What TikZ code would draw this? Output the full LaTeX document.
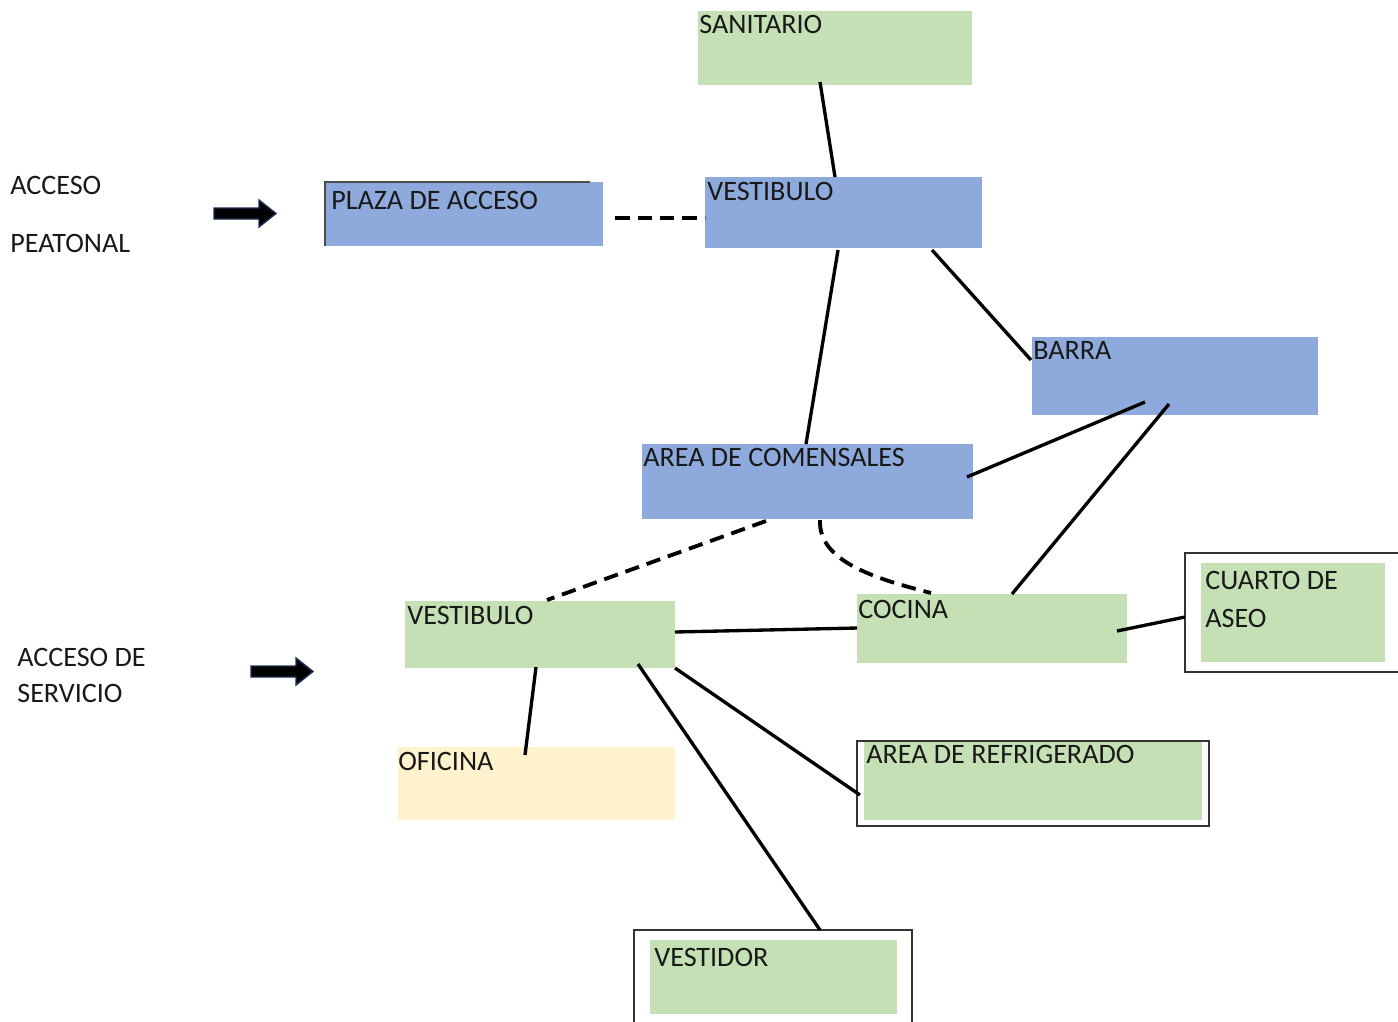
\documentclass[tikz,border=0pt]{standalone}
\usepackage{fontspec}
\setmainfont{Carlito}
\usetikzlibrary{calc}
\definecolor{bblue}{HTML}{8EA9DB}
\definecolor{bgreen}{HTML}{C5E0B4}
\definecolor{byellow}{HTML}{FFF2CC}
\definecolor{navy}{HTML}{1F2F55}
\begin{document}
\begin{tikzpicture}[x=0.02cm,y=-0.02cm,
  box/.style={inner sep=0,outer sep=0,anchor=north west,draw=none},
  frame/.style={inner sep=0,outer sep=0,anchor=north west,draw=black!80,line width=0.7pt,fill=white},
  lbl/.style={inner sep=0,anchor=base west,font=\fontsize{16}{19}\selectfont,text=black!90},
  conn/.style={line width=1.9pt,black},
  dconn/.style={line width=2.2pt,black,dash pattern=on 0.29cm off 0.16cm},
  bigarrow/.style={fill=black,draw=navy,line width=0.8pt,line join=miter}]
\useasboundingbox (0,0) rectangle (1398,1021);

% boxes
\node[box,fill=bgreen,minimum width=5.48cm,minimum height=1.48cm] (san) at (698,11) {};
\node[box,fill=bblue,minimum width=5.56cm,minimum height=1.28cm] (plaza) at (325,182) {};
\draw[black!70,line width=0.6pt] (plaza.south west) -- (plaza.north west) -- ([xshift=-0.26cm]plaza.north east);
\node[box,fill=bblue,minimum width=5.54cm,minimum height=1.42cm] (vest1) at (705,177) {};
\node[box,fill=bblue,minimum width=5.72cm,minimum height=1.56cm] (barra) at (1032,337) {};
\node[box,fill=bblue,minimum width=6.62cm,minimum height=1.50cm] (area) at (642,444) {};
\node[box,fill=bgreen,minimum width=5.40cm,minimum height=1.34cm] (vest2) at (405,601) {};
\node[box,fill=bgreen,minimum width=5.40cm,minimum height=1.38cm] (cocina) at (857,594) {};
\node[frame,minimum width=4.30cm,minimum height=2.38cm] (cuarto) at (1185,553) {};
\node[box,fill=bgreen,minimum width=3.68cm,minimum height=1.98cm] (cuartoin) at (1201,563) {};
\node[box,fill=byellow,minimum width=5.54cm,minimum height=1.46cm] (ofi) at (398,747) {};
\node[frame,minimum width=7.04cm,minimum height=1.70cm] (refri) at (857,741) {};
\node[box,fill=bgreen,minimum width=6.76cm,minimum height=1.56cm] (refriin) at (864,742) {};
\node[frame,minimum width=5.56cm,minimum height=2.10cm] (vestidor) at (634,930) {};
\node[box,fill=bgreen,minimum width=4.94cm,minimum height=1.48cm] (vestidorin) at (650,940) {};

% texts
\node[lbl] (tsan) at (699,33) {SANITARIO};
\node[lbl] (tplaza) at (331,209) {PLAZA DE ACCESO};
\node[lbl] (tvest1) at (707,200) {VESTIBULO};
\node[lbl] (tbarra) at (1033,359) {BARRA};
\node[lbl] (tarea) at (643,466) {AREA DE COMENSALES};
\node[lbl] (tvest2) at (407,624) {VESTIBULO};
\node[lbl] (tcocina) at (858,618) {COCINA};
\node[lbl] (tcuarto1) at (1205,589) {CUARTO DE};
\node[lbl] (tcuarto2) at (1205,627) {ASEO};
\node[lbl] (tofi) at (398,770) {OFICINA};
\node[lbl] (trefri) at (866,763) {AREA DE REFRIGERADO};
\node[lbl] (tvestidor) at (654,966) {VESTIDOR};
\node[lbl] (tacc1) at (10,194) {ACCESO};
\node[lbl] (tacc2) at (10,252) {PEATONAL};
\node[lbl] (tsrv1) at (17,666) {ACCESO DE};
\node[lbl] (tsrv2) at (17,702) {SERVICIO};

% arrows
\draw[bigarrow] (214,208) -- (259,208) -- (259,200) -- (276,213.5) -- (259,227) -- (259,219) -- (214,219) -- cycle;
\draw[bigarrow] (251,666) -- (296,666) -- (296,658) -- (313,671.5) -- (296,685) -- (296,677) -- (251,677) -- cycle;

% connectors
\draw[conn] ([shift={(122,71)}]san.north west) -- ([shift={(130,0)}]vest1.north west);
\draw[dconn] ([shift={(290,36)}]plaza.north west) -- ([shift={(0,41)}]vest1.north west);
\draw[conn] ([shift={(133,73)}]vest1.north west) -- ([shift={(164,0)}]area.north west);
\draw[conn] ([shift={(227,73)}]vest1.north west) -- ([shift={(-1,23)}]barra.north west);
\draw[conn] ([shift={(113,65)}]barra.north west) -- ([shift={(325,33)}]area.north west);
\draw[conn] ([shift={(137,67)}]barra.north west) -- ([shift={(155,0)}]cocina.north west);
\draw[dconn] ([shift={(124,77)}]area.north west) -- ([shift={(142,-1)}]vest2.north west);
\draw[dconn] ([shift={(178,76)}]area.north west) .. controls ([shift={(176,118)}]area.north west) and ([shift={(20,-15)}]cocina.north west) .. ([shift={(74,-1)}]cocina.north west);
\draw[conn] ([shift={(270,31)}]vest2.north west) -- ([shift={(0,34)}]cocina.north west);
\draw[conn] ([shift={(260,37)}]cocina.north west) -- ([shift={(0,64)}]cuarto.north west);
\draw[conn] ([shift={(131,66)}]vest2.north west) -- ([shift={(127,8)}]ofi.north west);
\draw[conn] ([shift={(270,67)}]vest2.north west) -- ([shift={(3,54)}]refri.north west);
\draw[conn] ([shift={(233,63)}]vest2.north west) -- ([shift={(186,0)}]vestidor.north west);
\end{tikzpicture}
\end{document}
